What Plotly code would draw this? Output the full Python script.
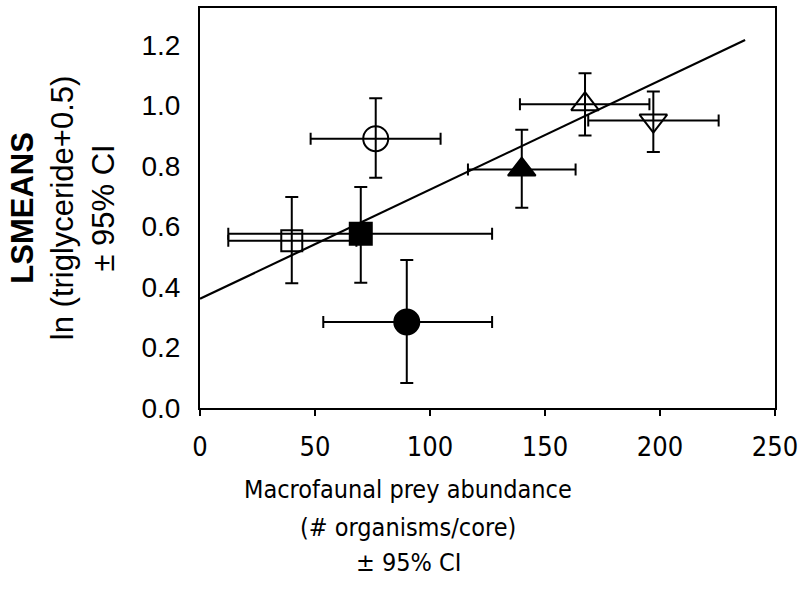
import plotly.graph_objects as go

# Data
x_vals = [76.4, 39.9, 69.9, 89.9, 139.9, 167.4, 197.1]
y_vals = [0.89, 0.553, 0.576, 0.284, 0.788, 1.004, 0.950]
x_lo = [48.1, 12.3, 12.3, 53.6, 116.5, 139.1, 168.8]
x_hi = [104.6, 68.0, 127.0, 127.0, 163.3, 195.4, 225.5]
y_lo = [0.761, 0.412, 0.414, 0.083, 0.662, 0.901, 0.846]
y_hi = [1.024, 0.697, 0.730, 0.489, 0.920, 1.106, 1.046]
symbols = ["circle-open", "square-open", "square", "circle", "triangle-up",
           "triangle-up-open", "triangle-down-open"]
sizes = [25, 21, 22, 25, 24, 24, 24]

fit_x = [0, 237]
fit_y = [0.361, 1.216]

x_ticks = [0, 50, 100, 150, 200, 250]
y_ticks = [0.0, 0.2, 0.4, 0.6, 0.8, 1.0, 1.2]

x_title_lines = ["Macrofaunal prey abundance", "(# organisms/core)", "± 95% CI"]

fig = go.Figure()

fig.add_trace(go.Scatter(
    x=fit_x, y=fit_y, mode="lines",
    line=dict(color="black", width=2.2), showlegend=False, hoverinfo="skip"))

fig.add_trace(go.Scatter(
    x=x_vals, y=y_vals, mode="markers",
    marker=dict(symbol=symbols, size=sizes, color="black", opacity=1,
                line=dict(color="black", width=2)),
    error_x=dict(type="data", symmetric=False,
                 array=[h - v for h, v in zip(x_hi, x_vals)],
                 arrayminus=[v - l for l, v in zip(x_lo, x_vals)],
                 color="black", thickness=2, width=6),
    error_y=dict(type="data", symmetric=False,
                 array=[h - v for h, v in zip(y_hi, y_vals)],
                 arrayminus=[v - l for l, v in zip(y_lo, y_vals)],
                 color="black", thickness=2, width=6.5),
    showlegend=False))

narrow = "DejaVu Sans Condensed, Liberation Sans Narrow, sans-serif"
arial = "Liberation Sans, Arial, sans-serif"

annotations = [
    dict(text="<b>LSMEANS</b><br>ln (triglyceride+0.5)<br>± 95% CI",
         xref="paper", yref="paper", x=-0.238, y=0.5, xanchor="center",
         yanchor="middle", textangle=-90, showarrow=False,
         font=dict(family=arial, size=31, color="black")),
]
# x title lines, centre y in pixels: 490, 528, 563 ; plot spans y 6..408
for line, ypix in zip(x_title_lines, [490, 528, 563]):
    annotations.append(dict(
        text=line, xref="paper", yref="paper", x=0.362,
        y=(408 - ypix) / 402.0, xanchor="center", yanchor="middle",
        showarrow=False, font=dict(family=narrow, size=25, color="black")))

fig.update_layout(
    width=807, height=589,
    margin=dict(l=200, r=32, t=6, b=181),
    paper_bgcolor="white", plot_bgcolor="white",
    xaxis=dict(range=[0, 250], tickvals=x_ticks, ticktext=[str(t) for t in x_ticks],
               showgrid=False, zeroline=False, showline=True, linecolor="black",
               linewidth=2, mirror=True, ticks="outside", ticklen=6, tickwidth=2,
               tickcolor="black", ticklabelstandoff=8,
               tickfont=dict(family=narrow, size=27, color="black")),
    yaxis=dict(range=[0, 1.322], tickvals=y_ticks,
               ticktext=["%.1f" % t for t in y_ticks],
               showgrid=False, zeroline=False, showline=True, linecolor="black",
               linewidth=2, mirror=True, ticks="", ticklabelstandoff=12,
               tickfont=dict(family=arial, size=28, color="black")),
    annotations=annotations,
)

fig.write_html("out.html")
